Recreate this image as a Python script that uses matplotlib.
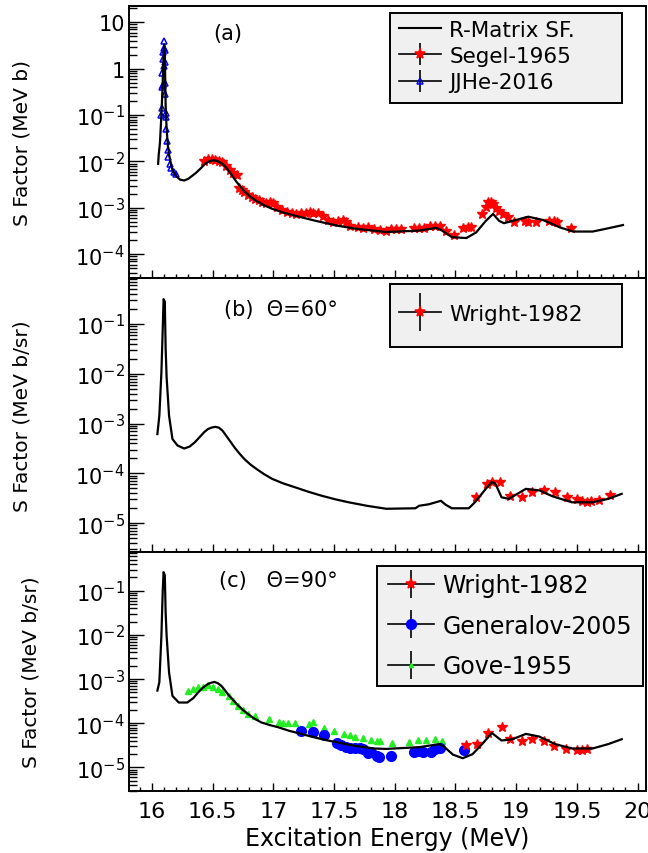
import numpy as np
import matplotlib
matplotlib.use('Agg')
import matplotlib.pyplot as plt
from matplotlib.lines import Line2D
from matplotlib.patches import Rectangle
from matplotlib.ticker import MultipleLocator, LogLocator, NullFormatter

plt.rcParams['font.family'] = ['DejaVu Sans']
plt.rcParams['mathtext.fontset'] = 'dejavusans'
plt.rcParams['mathtext.default'] = 'regular'

# ---------------- data (energies in MeV, S factors given as log10 values) ----------------
# R-matrix curve, panel (a)
rm_a_E = [16.050, 16.055, 16.065, 16.075, 16.085, 16.095, 16.100, 16.105, 16.112, 16.120, 16.130,
          16.140, 16.155, 16.170, 16.200, 16.230, 16.265, 16.300, 16.360, 16.400, 16.430, 16.460,
          16.490, 16.510, 16.540, 16.580, 16.610, 16.640, 16.690, 16.760, 16.810, 16.860, 16.920,
          16.990, 17.080, 17.180, 17.350, 17.520, 17.680, 17.930, 18.200, 18.340, 18.390, 18.470,
          18.590, 18.670, 18.750, 18.810, 18.860, 18.900, 18.970, 19.100, 19.220, 19.360, 19.470,
          19.630, 19.740, 19.880]
rm_a_logS = [-2.05, -1.85, -1.60, -1.10, -0.50, 0.30, 0.52, 0.30, -0.80, -1.30, -1.65,
             -1.85, -2.05, -2.20, -2.32, -2.39, -2.41, -2.37, -2.25, -2.15, -2.07, -2.01,
             -1.98, -1.975, -1.99, -2.05, -2.13, -2.23, -2.42, -2.64, -2.76, -2.85, -2.94,
             -3.02, -3.10, -3.17, -3.28, -3.38, -3.45, -3.52, -3.49, -3.43, -3.49, -3.63,
             -3.65, -3.53, -3.28, -3.13, -3.28, -3.33, -3.28, -3.19, -3.26, -3.42, -3.51,
             -3.51, -3.45, -3.37]

# R-matrix curve, panel (b)  Theta = 60 deg
rm_b_E = [16.044, 16.060, 16.077, 16.088, 16.095, 16.105, 16.112, 16.120, 16.140, 16.168, 16.210,
          16.265, 16.310, 16.350, 16.400, 16.430, 16.460, 16.490, 16.520, 16.550, 16.580, 16.610,
          16.645, 16.680, 16.720, 16.760, 16.810, 16.860, 16.920, 16.990, 17.080, 17.180, 17.290,
          17.400, 17.510, 17.620, 17.770, 17.930, 18.170, 18.200, 18.280, 18.380, 18.420, 18.470,
          18.610, 18.660, 18.750, 18.800, 18.830, 18.880, 18.940, 19.080, 19.190, 19.300, 19.460,
          19.630, 19.760, 19.870]
rm_b_logS = [-3.21, -2.84, -1.97, -1.10, -0.50, -0.55, -1.50, -2.07, -2.84, -3.31, -3.44,
             -3.50, -3.46, -3.38, -3.25, -3.17, -3.11, -3.08, -3.065, -3.08, -3.14, -3.24,
             -3.36, -3.48, -3.60, -3.71, -3.82, -3.91, -4.01, -4.11, -4.20, -4.28, -4.37,
             -4.45, -4.52, -4.58, -4.65, -4.71, -4.70, -4.65, -4.62, -4.55, -4.63, -4.70,
             -4.70, -4.58, -4.31, -4.17, -4.21, -4.48, -4.51, -4.31, -4.34, -4.46, -4.58,
             -4.58, -4.51, -4.41]

# R-matrix curve, panel (c)  Theta = 90 deg
rm_c_E = [16.044, 16.060, 16.077, 16.088, 16.095, 16.105, 16.112, 16.120, 16.140, 16.168, 16.220,
          16.290, 16.340, 16.380, 16.420, 16.460, 16.490, 16.515, 16.540, 16.570, 16.600, 16.630,
          16.670, 16.710, 16.750, 16.790, 16.840, 16.900, 16.970, 17.040, 17.130, 17.230, 17.340,
          17.450, 17.560, 17.670, 17.830, 17.930, 18.200, 18.370, 18.410, 18.480, 18.560, 18.640,
          18.720, 18.800, 18.880, 18.970, 19.080, 19.190, 19.320, 19.460, 19.630, 19.760, 19.870]
rm_c_logS = [-3.26, -3.07, -2.02, -1.00, -0.58, -0.65, -1.50, -2.02, -2.85, -3.38, -3.53,
             -3.53, -3.43, -3.30, -3.19, -3.11, -3.08, -3.065, -3.09, -3.15, -3.25, -3.36,
             -3.48, -3.60, -3.70, -3.79, -3.89, -3.98, -4.04, -4.09, -4.17, -4.24, -4.32,
             -4.39, -4.45, -4.51, -4.57, -4.58, -4.54, -4.47, -4.54, -4.71, -4.79, -4.70,
             -4.47, -4.22, -4.39, -4.36, -4.24, -4.30, -4.47, -4.57, -4.57, -4.47, -4.36]

# Segel-1965
segel_E = [16.43, 16.46, 16.49, 16.52, 16.55, 16.58, 16.61, 16.64, 16.67, 16.70, 16.72, 16.74,
           16.76, 16.79, 16.82, 16.85, 16.88, 16.91, 16.94, 16.97, 17.00, 17.03, 17.07, 17.11,
           17.15, 17.19, 17.23, 17.27, 17.30, 17.33, 17.37, 17.41, 17.45, 17.49, 17.53, 17.57,
           17.60, 17.63, 17.70, 17.74, 17.78, 17.83, 17.88, 17.93, 17.97, 18.01, 18.05, 18.16,
           18.20, 18.24, 18.29, 18.33, 18.37, 18.42, 18.49, 18.56, 18.60, 18.63, 18.72, 18.75,
           18.77, 18.79, 18.81, 18.83, 18.86, 18.89, 18.93, 18.98, 19.07, 19.10, 19.16, 19.27,
           19.31, 19.34, 19.45]
segel_logS = [-1.98, -1.95, -1.94, -1.96, -1.98, -2.02, -2.10, -2.18, -2.24, -2.30, -2.58, -2.62,
              -2.66, -2.72, -2.76, -2.80, -2.84, -2.88, -2.90, -2.88, -2.90, -2.98, -3.04, -3.08,
              -3.10, -3.13, -3.12, -3.10, -3.08, -3.10, -3.12, -3.18, -3.26, -3.30, -3.28, -3.26,
              -3.30, -3.38, -3.42, -3.44, -3.42, -3.46, -3.48, -3.49, -3.46, -3.46, -3.46, -3.43,
              -3.43, -3.43, -3.40, -3.38, -3.39, -3.49, -3.58, -3.43, -3.41, -3.41, -3.13, -2.98,
              -2.88, -2.87, -2.92, -3.00, -3.06, -3.13, -3.20, -3.31, -3.28, -3.30, -3.31, -3.28,
              -3.28, -3.30, -3.43]

# JJHe-2016
jjhe_E = [16.075, 16.080, 16.082, 16.085, 16.088, 16.090, 16.092, 16.095, 16.098, 16.100, 16.103,
          16.105, 16.107, 16.110, 16.112, 16.115, 16.118, 16.122, 16.128, 16.135, 16.145, 16.160,
          16.180, 16.200]
jjhe_logS = [-1.00, -0.85, -0.40, -0.10, 0.20, 0.35, -0.35, 0.05, 0.45, 0.60, 0.40,
             0.15, -0.30, -0.55, -0.95, -1.05, -1.30, -1.55, -1.75, -1.90, -2.05, -2.15,
             -2.22, -2.28]

# Wright-1982, 60 deg
wright60_E = [18.67, 18.76, 18.80, 18.87, 18.95, 19.05, 19.13, 19.23, 19.32, 19.42, 19.50,
              19.54, 19.58, 19.62, 19.68, 19.77]
wright60_logS = [-4.48, -4.21, -4.17, -4.18, -4.45, -4.48, -4.38, -4.33, -4.37, -4.48, -4.51,
                 -4.55, -4.57, -4.55, -4.54, -4.44]

# Wright-1982, 90 deg
wright90_E = [18.59, 18.68, 18.77, 18.88, 18.95, 19.05, 19.13, 19.23, 19.31, 19.41, 19.50,
              19.54, 19.58]
wright90_logS = [-4.49, -4.47, -4.22, -4.09, -4.36, -4.39, -4.36, -4.41, -4.52, -4.58, -4.61,
                 -4.61, -4.58]

# Generalov-2005
gen_E = [17.23, 17.33, 17.42, 17.52, 17.56, 17.60, 17.63, 17.67, 17.71, 17.74, 17.78, 17.80,
         17.85, 17.87, 17.97, 18.16, 18.20, 18.23, 18.30, 18.33, 18.37, 18.57]
gen_logS = [-4.17, -4.20, -4.27, -4.45, -4.50, -4.54, -4.56, -4.57, -4.57, -4.59, -4.67, -4.66,
            -4.75, -4.77, -4.75, -4.66, -4.63, -4.64, -4.66, -4.59, -4.55, -4.61]

# Gove-1955
gove_E = [16.30, 16.34, 16.38, 16.42, 16.46, 16.50, 16.54, 16.58, 16.63, 16.67, 16.71, 16.75,
          16.79, 16.85, 16.96, 17.05, 17.08, 17.12, 17.18, 17.29, 17.33, 17.42, 17.50, 17.58,
          17.63, 17.67, 17.74, 17.80, 17.85, 17.88, 17.98, 18.12, 18.19, 18.26, 18.33, 18.39]
gove_logS = [-3.26, -3.22, -3.18, -3.18, -3.14, -3.18, -3.22, -3.30, -3.38, -3.49, -3.60, -3.71,
             -3.79, -3.83, -3.90, -3.98, -3.99, -3.99, -3.99, -4.02, -3.98, -4.10, -4.18, -4.25,
             -4.27, -4.30, -4.33, -4.37, -4.39, -4.40, -4.45, -4.42, -4.38, -4.37, -4.36, -4.40]

# ticks / labels
xtick_vals = [16, 16.5, 17, 17.5, 18, 18.5, 19, 19.5, 20]
xtick_labels = ['16', '16.5', '17', '17.5', '18', '18.5', '19', '19.5', '20']
ya_ticks = [10, 1, 1e-1, 1e-2, 1e-3, 1e-4]
ya_labels = ['10', '1', '$10^{-1}$', '$10^{-2}$', '$10^{-3}$', '$10^{-4}$']
ybc_ticks = [1e-1, 1e-2, 1e-3, 1e-4, 1e-5]
ybc_labels = ['$10^{-1}$', '$10^{-2}$', '$10^{-3}$', '$10^{-4}$', '$10^{-5}$']

L = lambda v: 10 ** np.asarray(v, dtype=float)

# ---------------- figure ----------------
W, H = 648, 854
fig = plt.figure(figsize=(6.48, 8.54), dpi=100)

def fx(px):
    return px / W

def fy(py):
    return 1 - py / H

left, right = 129, 646
panels = [(7, 279), (279, 553), (553, 792)]
ylims = [(10 ** -4.511, 10 ** 1.351), (10 ** -5.578, 10 ** -0.076), (10 ** -5.532, 10 ** -0.124)]
axes = []
for (top, bot), yl in zip(panels, ylims):
    ax = fig.add_axes([fx(left), fy(bot), (right - left) / W, (bot - top) / H])
    ax.set_yscale('log')
    ax.set_xlim(15.81, 20.07)
    ax.set_ylim(*yl)
    ax.xaxis.set_minor_locator(MultipleLocator(0.1))
    ax.yaxis.set_minor_locator(LogLocator(base=10, subs=np.arange(2, 10), numticks=100))
    ax.yaxis.set_minor_formatter(NullFormatter())
    ax.tick_params(which='both', direction='in', top=False, right=False, width=1.0,
                   colors='black')
    ax.tick_params(axis='y', which='major', length=11, pad=3, labelsize=15)
    ax.tick_params(axis='y', which='minor', length=6)
    ax.tick_params(axis='x', which='major', length=6, pad=7, labelsize=16)
    ax.tick_params(axis='x', which='minor', length=3)
    for s in ax.spines.values():
        s.set_linewidth(1.4)
    axes.append(ax)

axa, axb, axc = axes
for ax in axes:
    ax.set_xticks(xtick_vals, xtick_labels)
axa.tick_params(labelbottom=False)
axb.tick_params(labelbottom=False)
axa.set_yticks(ya_ticks, ya_labels)
axb.set_yticks(ybc_ticks, ybc_labels)
axc.set_yticks(ybc_ticks, ybc_labels)
for ax, yl in zip(axes, ylims):
    ax.set_ylim(*yl)

# curves and data
curve_kw = dict(color='black', lw=1.6, zorder=3)
axa.plot(rm_a_E, L(rm_a_logS), **curve_kw)
axb.plot(rm_b_E, L(rm_b_logS), **curve_kw)
axc.plot(rm_c_E, L(rm_c_logS), **curve_kw)

star_kw = dict(ls='', marker='*', ms=7, color='red', mec='red', zorder=2)
axa.plot(segel_E, L(segel_logS), **star_kw)
axa.plot(jjhe_E, L(jjhe_logS), ls='', marker='^', ms=5, mfc='none', mec='blue', mew=1.1, zorder=2)
axb.plot(wright60_E, L(wright60_logS), **star_kw)
axc.plot(gove_E, L(gove_logS), ls='', marker='^', ms=4.5, color='#22ee22', zorder=2)
axc.plot(gen_E, L(gen_logS), ls='', marker='o', ms=7, color='blue', zorder=2)
axc.plot(wright90_E, L(wright90_logS), **star_kw)

# panel labels
axa.text(fx(213), fy(34), '(a)', transform=fig.transFigure, fontsize=15, va='center', ha='left')
axb.text(fx(224), fy(310), '(b)  Θ=60°', transform=fig.transFigure, fontsize=15, va='center', ha='left')
axc.text(fx(219), fy(581), '(c)   Θ=90°', transform=fig.transFigure, fontsize=15, va='center', ha='left')

# axis titles
ylabel_fs = 14.5
axa.set_ylabel('S Factor (MeV b)', fontsize=ylabel_fs)
axb.set_ylabel('S Factor (MeV b/sr)', fontsize=ylabel_fs)
axc.set_ylabel('S Factor (MeV b/sr)', fontsize=ylabel_fs)
for ax, xc in zip(axes, [32, 32, 41]):
    ax.yaxis.set_label_coords((xc - left) / (right - left), 0.5)
axc.set_xlabel('Excitation Energy (MeV)', fontsize=17, labelpad=4)


# legends
def err_handle(marker, ms, mfc, mec, vlen):
    return (Line2D([], [], color='black', lw=1.2),
            Line2D([], [], ls='', marker='|', ms=vlen, mew=1.2, color='black'),
            Line2D([], [], ls='', marker=marker, ms=ms, mfc=mfc, mec=mec, mew=1.1))


def legend_box(ax, x0, y0, x1, y1):
    ax.add_patch(Rectangle((fx(x0), fy(y1)), fx(x1) - fx(x0), fy(y0) - fy(y1),
                           transform=fig.transFigure, facecolor='#f0f0f0', edgecolor='black',
                           lw=1.4, zorder=4, clip_on=False))


legend_box(axa, 390, 14, 622, 104)
ha = [Line2D([], [], color='black', lw=1.5),
      err_handle('*', 8, 'red', 'red', 16),
      err_handle('^', 5, 'none', 'blue', 16)]
lga = axa.legend(ha, ['R-Matrix SF.', 'Segel-1965', 'JJHe-2016'], loc='center left',
                 bbox_to_anchor=(fx(399), fy(57)), bbox_transform=fig.transFigure,
                 frameon=False, fontsize=15.5, handlelength=1.95, handletextpad=0.38,
                 labelspacing=0.3, borderpad=0, borderaxespad=0)
lga.set_zorder(5)

legend_box(axb, 390, 285, 622, 348)
lgb = axb.legend([err_handle('*', 8, 'red', 'red', 27)], ['Wright-1982'], loc='center left',
                 bbox_to_anchor=(fx(399), fy(315)), bbox_transform=fig.transFigure,
                 frameon=False, fontsize=15.5, handlelength=1.95, handletextpad=0.38,
                 borderpad=0, borderaxespad=0)
lgb.set_zorder(5)

legend_box(axc, 377, 567, 643, 687)
hc = [err_handle('*', 8, 'red', 'red', 20),
      err_handle('o', 7, 'blue', 'blue', 20),
      err_handle('^', 3, '#22ee22', '#22ee22', 20)]
lgc = axc.legend(hc, ['Wright-1982', 'Generalov-2005', 'Gove-1955'], loc='center left',
                 bbox_to_anchor=(fx(388), fy(626.5)), bbox_transform=fig.transFigure,
                 frameon=False, fontsize=17, handlelength=1.95, handletextpad=0.35,
                 labelspacing=0.7, borderpad=0, borderaxespad=0)
lgc.set_zorder(5)

fig.savefig('out.png', dpi=100)
